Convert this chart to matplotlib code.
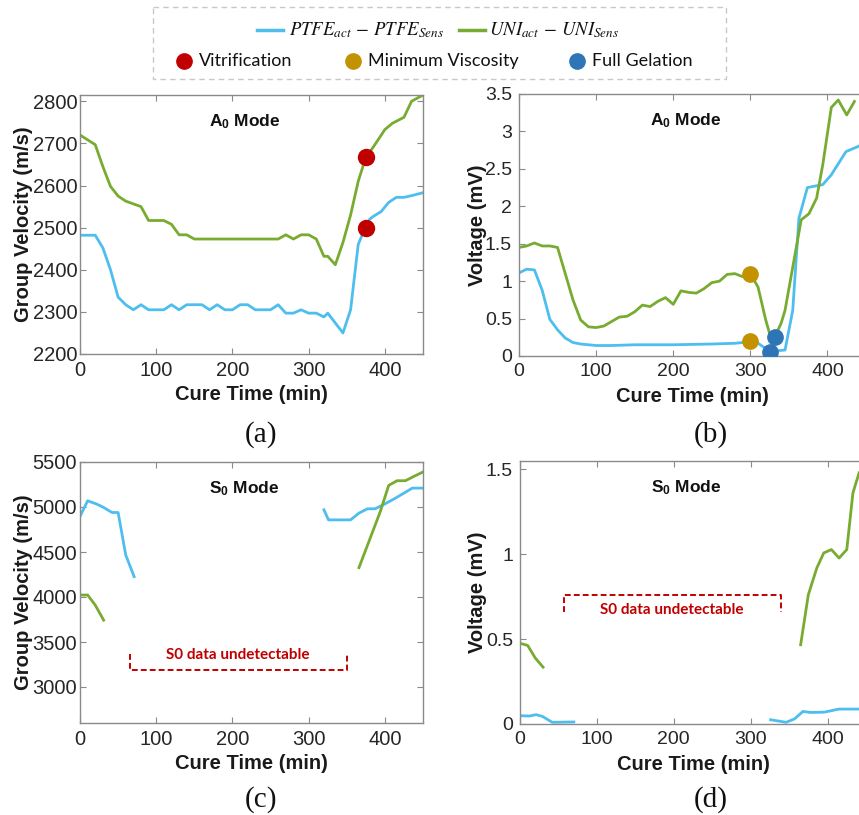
import numpy as np
import matplotlib
matplotlib.use("Agg")
import matplotlib.pyplot as plt
from matplotlib.lines import Line2D
from matplotlib.patches import Rectangle

# ---------------- data ----------------
nan = np.nan

# (a) A0 mode group velocity (m/s)
t_a_ptfe = [0, 20, 30, 40, 50, 60, 70, 80, 90, 110, 120, 130, 140, 160, 170, 180, 190, 200, 210,
            220, 230, 250, 260, 270, 280, 290, 300, 310, 320, 325, 345, 355, 365, 370, 375, 380,
            385, 395, 405, 415, 425, 435, 450]
v_a_ptfe = [2482, 2482, 2452, 2400, 2335, 2317, 2305, 2317, 2305, 2305, 2317, 2305, 2317, 2317,
            2305, 2317, 2305, 2305, 2317, 2317, 2305, 2305, 2317, 2297, 2297, 2305, 2297, 2297,
            2288, 2297, 2250, 2305, 2460, 2482, 2500, 2520, 2527, 2538, 2560, 2572, 2572, 2576, 2583]
t_a_uni = [0, 20, 30, 40, 50, 60, 80, 90, 110, 120, 130, 140, 150, 260, 270, 280, 290, 300, 310,
           320, 325, 335, 345, 355, 365, 375, 385, 400, 410, 425, 435, 450]
v_a_uni = [2720, 2697, 2645, 2598, 2575, 2563, 2550, 2517, 2517, 2508, 2483, 2483, 2473, 2473,
           2483, 2473, 2483, 2483, 2473, 2432, 2432, 2412, 2465, 2530, 2610, 2667, 2692, 2733,
           2748, 2762, 2800, 2815]
vitr_t = [375, 375]
vitr_v = [2500, 2667]

# (b) A0 mode voltage (mV)
t_b_ptfe = [0, 10, 20, 30, 40, 50, 60, 70, 80, 90, 100, 120, 150, 200, 250, 280, 290, 300, 310,
            320, 325, 335, 345, 355, 363, 374, 394, 405, 424, 440, 450]
v_b_ptfe = [1.11, 1.16, 1.15, 0.88, 0.49, 0.35, 0.24, 0.18, 0.16, 0.15, 0.14, 0.14, 0.15, 0.15,
            0.16, 0.17, 0.18, 0.20, 0.17, 0.10, 0.05, 0.07, 0.08, 0.61, 1.84, 2.25, 2.29, 2.42,
            2.73, 2.80, 2.85]
t_b_uni = [0, 10, 20, 30, 40, 50, 60, 70, 80, 90, 100, 110, 120, 130, 140, 150, 160, 170, 180,
           190, 200, 210, 220, 230, 240, 250, 260, 270, 280, 290, 300, 310, 320, 325, 332, 340,
           345, 366, 376, 386, 394, 405, 414, 425, 435]
v_b_uni = [1.45, 1.47, 1.51, 1.47, 1.47, 1.45, 1.10, 0.75, 0.48, 0.39, 0.38, 0.40, 0.46, 0.52,
           0.53, 0.59, 0.68, 0.66, 0.73, 0.78, 0.69, 0.87, 0.85, 0.84, 0.90, 0.98, 1.00, 1.09,
           1.10, 1.06, 1.10, 0.92, 0.48, 0.30, 0.26, 0.44, 0.61, 1.82, 1.90, 2.11, 2.56, 3.32,
           3.42, 3.22, 3.40]
minvisc_t = [300, 300]
minvisc_v = [0.20, 1.10]
gel_t = [325, 332]
gel_v = [0.05, 0.26]

# (c) S0 mode group velocity (m/s); NaN marks the undetectable stretch
t_c_ptfe = [0, 10, 22, 31, 42, 50, 60, 71, 200, 320, 326, 355, 366, 377, 387, 398, 414, 436, 450]
v_c_ptfe = [4895, 5069, 5032, 4995, 4939, 4939, 4467, 4226, nan, 4969, 4857, 4857, 4932, 4980,
            4980, 5025, 5099, 5210, 5210]
t_c_uni = [0, 10, 20, 31, 200, 366, 384, 394, 405, 416, 427, 438, 450]
v_c_uni = [4022, 4022, 3910, 3743, nan, 4326, 4727, 4950, 5240, 5292, 5292, 5340, 5389]

# (d) S0 mode voltage (mV)
t_d_ptfe = [0, 12, 21, 29, 42, 70, 200, 326, 346, 357, 368, 378, 396, 415, 445]
v_d_ptfe = [0.049, 0.047, 0.055, 0.045, 0.010, 0.012, nan, 0.025, 0.010, 0.030, 0.074, 0.068,
            0.070, 0.088, 0.088]
t_d_uni = [0, 10, 20, 30, 200, 365, 375, 386, 395, 405, 415, 425, 433, 441]
v_d_uni = [0.476, 0.463, 0.388, 0.335, nan, 0.467, 0.762, 0.919, 1.008, 1.028, 0.978, 1.028,
           1.362, 1.48]

x_ticks = [0, 100, 200, 300, 400]

# ---------------- style ----------------
C_PTFE = '#4DBEEE'
C_UNI = '#77AC30'
C_VIT = '#C00000'
C_MIN = '#C39200'
C_GEL = '#2E75B6'
C_NOTE = '#C00000'
SPINE = '#8a8a8a'

plt.rcParams.update({
    'font.family': ['Liberation Sans', 'DejaVu Sans'],
    'mathtext.fontset': 'custom',
    'mathtext.rm': 'Liberation Sans',
    'mathtext.bf': 'Liberation Sans:bold',
    'mathtext.it': 'Liberation Sans:italic',
})

W, H = 859, 815
fig = plt.figure(figsize=(W / 100, H / 100), dpi=100)


def box(l, t, r, b):
    return [l / W, 1 - b / H, (r - l) / W, (b - t) / H]


def style(ax, ylim, yticks, ylabels, ypad, ylabel, ylab_x, tsize):
    ax.set_xlim(0, 450)
    ax.set_ylim(*ylim)
    ax.set_xticks(x_ticks)
    ax.set_xticklabels([str(v) for v in x_ticks])
    ax.set_yticks(yticks)
    ax.set_yticklabels(ylabels)
    ax.tick_params(direction='in', length=4, width=0.8, color=SPINE, top=True, right=True,
                   labelsize=tsize, labelcolor='#262626')
    ax.tick_params(axis='y', pad=ypad)
    ax.tick_params(axis='x', pad=5)
    for s in ax.spines.values():
        s.set_color(SPINE)
        s.set_linewidth(1.0)
    ax.set_xlabel('Cure Time (min)', fontsize=14.5, fontweight='bold', color='#1a1a1a',
                  va='center')
    ax.xaxis.set_label_coords(0.5, -0.155)
    ax.set_ylabel(ylabel, fontsize=14.5, fontweight='bold', color='#1a1a1a', va='center')
    ax.yaxis.set_label_coords(ylab_x, 0.5)


def mode_title(ax, s):
    ax.text(0.48, 0.897, s, transform=ax.transAxes, ha='center', va='center',
            fontsize=12.5, fontweight='bold', color='#111111')


LW = 2.0

# (a)
ax_a = fig.add_axes(box(80, 95, 423, 354))
ax_a.plot(t_a_ptfe, v_a_ptfe, color=C_PTFE, lw=LW)
ax_a.plot(t_a_uni, v_a_uni, color=C_UNI, lw=LW)
ax_a.plot(vitr_t, vitr_v, 'o', color=C_VIT, ms=11.5, ls='none', zorder=5)
style(ax_a, (2200, 2815), [2200, 2300, 2400, 2500, 2600, 2700, 2800],
      ['2200', '2300', '2400', '2500', '2600', '2700', '2800'], 2,
      'Group Velocity (m/s)', -0.165, 14.5)
mode_title(ax_a, r'$\mathbf{A_0}$ Mode')

# (b)
ax_b = fig.add_axes(box(519, 94, 866, 356))
ax_b.plot(t_b_ptfe, v_b_ptfe, color=C_PTFE, lw=LW)
ax_b.plot(t_b_uni, v_b_uni, color=C_UNI, lw=LW)
ax_b.plot(minvisc_t, minvisc_v, 'o', color=C_MIN, ms=11, ls='none', zorder=5)
ax_b.plot(gel_t, gel_v, 'o', color=C_GEL, ms=11, ls='none', zorder=5)
style(ax_b, (0, 3.5), [0, 0.5, 1, 1.5, 2, 2.5, 3, 3.5],
      ['0', '0.5', '1', '1.5', '2', '2.5', '3', '3.5'], 5,
      'Voltage (mV)', -0.121, 14)
mode_title(ax_b, r'$\mathbf{A_0}$ Mode')

# (c)
ax_c = fig.add_axes(box(80, 462, 423, 723))
ax_c.plot(t_c_ptfe, v_c_ptfe, color=C_PTFE, lw=LW)
ax_c.plot(t_c_uni, v_c_uni, color=C_UNI, lw=LW)
style(ax_c, (2600, 5500), [3000, 3500, 4000, 4500, 5000, 5500],
      ['3000', '3500', '4000', '4500', '5000', '5500'], 2,
      'Group Velocity (m/s)', -0.165, 14.5)
mode_title(ax_c, r'$\mathbf{S_0}$ Mode')
ax_c.plot([65, 65, 350, 350], [3371, 3186, 3186, 3371], ls=(0, (3, 1.6)), color=C_NOTE, lw=1.4)
ax_c.text(207, 3360, 'S0 data undetectable', ha='center', va='center', color=C_NOTE,
          fontsize=11, fontweight='bold', family=['Lato', 'DejaVu Sans'])

# (d)
ax_d = fig.add_axes(box(520, 461, 866, 724))
ax_d.plot(t_d_ptfe, v_d_ptfe, color=C_PTFE, lw=LW)
ax_d.plot(t_d_uni, v_d_uni, color=C_UNI, lw=LW)
style(ax_d, (0, 1.55), [0, 0.5, 1, 1.5], ['0', '0.5', '1', '1.5'], 5,
      'Voltage (mV)', -0.124, 14)
mode_title(ax_d, r'$\mathbf{S_0}$ Mode')
ax_d.plot([57, 57, 339, 339], [0.663, 0.762, 0.762, 0.663], ls=(0, (3, 1.6)), color=C_NOTE,
          lw=1.4)
ax_d.text(198, 0.673, 'S0 data undetectable', ha='center', va='center', color=C_NOTE,
          fontsize=11, fontweight='bold', family=['Lato', 'DejaVu Sans'])

# panel captions
for lbl, x, y in [('(a)', 261, 435), ('(b)', 711, 435), ('(c)', 261, 800), ('(d)', 711, 800)]:
    fig.text(x / W, 1 - y / H, lbl, ha='center', va='center', fontsize=21,
             family=['Liberation Serif', 'DejaVu Serif'], color='#111111')

# ---------------- shared legend ----------------
lg = fig.add_axes([0, 0, 1, 1], zorder=10)
lg.set_xlim(0, W)
lg.set_ylim(H, 0)
lg.axis('off')
lg.add_patch(Rectangle((153, 7), 573, 72, fill=False, ec='#c8c8c8', lw=1.0, ls=(0, (4, 3))))
lg.add_line(Line2D([257, 283], [30, 30], color=C_PTFE, lw=2.5))
lg.add_line(Line2D([459, 485], [30, 30], color=C_UNI, lw=2.5))
lg.text(289, 30, r'$PTFE_{act}\,-\,PTFE_{Sens}$', ha='left', va='center', fontsize=13.5,
        math_fontfamily='stix', color='#111111')
lg.text(489, 30, r'$UNI_{act}\,-\,UNI_{Sens}$', ha='left', va='center', fontsize=13.5,
        math_fontfamily='stix', color='#111111')
for cx, col, txt in [(184, C_VIT, 'Vitrification'), (353, C_MIN, 'Minimum Viscosity'),
                     (577, C_GEL, 'Full Gelation')]:
    lg.plot([cx], [61], 'o', color=col, ms=11)
    lg.text(cx + 15, 61, txt, ha='left', va='center', fontsize=13,
            family=['Lato', 'DejaVu Sans'], color='#111111')

fig.savefig('out.png', dpi=100)
